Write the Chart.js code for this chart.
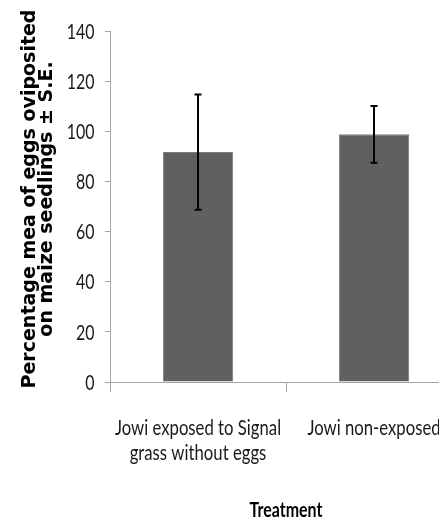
<!DOCTYPE html>
<html>
<head>
<meta charset="utf-8">
<script src="https://cdn.jsdelivr.net/npm/chart.js@4/dist/chart.umd.min.js"></script>
<style>
  html, body { margin: 0; padding: 0; background: #fff; overflow: hidden; }
  #wrap { width: 439px; height: 520px; overflow: hidden; }
  canvas { display: block; }
</style>
</head>
<body>
<div id="wrap"><canvas id="myChart" width="466" height="520"></canvas></div>
<script>
const treatments = [
    ["Jowi exposed to Signal", "grass without eggs"],
    ["Jowi non-exposed"],
];
const meanEggs = [91.7, 98.8];
const seEggs = [23, 11.3];
const yTitle = ["Percentage mea of eggs oviposited", "on maize seedlings \u00b1 S.E."];
const xTitle = "Treatment";

// narrow labels: Lato squeezed horizontally
const SQUEEZE = 0.76;

function squeezed(c, text, x, y, align, sx) {
    c.save();
    c.translate(x, y);
    c.scale(sx, 1);
    c.textAlign = align;
    c.fillText(text, 0, 0);
    c.restore();
}

// tick labels, error bars and axis titles are painted by hand
const extras = {
    id: "extras",
    afterDatasetsDraw(chart) {
        const c = chart.ctx;
        const y = chart.scales.y;
        const meta = chart.getDatasetMeta(0);
        c.save();
        c.strokeStyle = "#000";
        c.lineWidth = 2;
        meta.data.forEach((bar, i) => {
            const top = y.getPixelForValue(meanEggs[i] + seEggs[i]);
            const bot = y.getPixelForValue(meanEggs[i] - seEggs[i]);
            c.beginPath();
            c.moveTo(bar.x, top);
            c.lineTo(bar.x, bot);
            c.moveTo(bar.x - 3.5, top);
            c.lineTo(bar.x + 3.5, top);
            c.moveTo(bar.x - 3.5, bot);
            c.lineTo(bar.x + 3.5, bot);
            c.stroke();
        });
        c.restore();
    },
    afterDraw(chart) {
        const c = chart.ctx;
        const area = chart.chartArea;
        const xs = chart.scales.x;
        const ys = chart.scales.y;

        c.save();
        c.fillStyle = "#1a1a1a";
        c.textBaseline = "middle";
        c.font = "21px Lato, sans-serif";
        ys.ticks.forEach((t, i) => {
            squeezed(c, String(t.value), area.left - 15.5, ys.getPixelForTick(i) + 1, "right", SQUEEZE);
        });
        c.textBaseline = "alphabetic";
        c.font = "22px Lato, sans-serif";
        treatments.forEach((lines, i) => {
            const cx = xs.getPixelForTick(i);
            lines.forEach((line, j) => {
                squeezed(c, line, cx, area.bottom + 53 + j * 25, "center", SQUEEZE);
            });
        });
        c.fillStyle = "#000";
        c.font = "bold 21px Lato, sans-serif";
        squeezed(c, xTitle, (area.left + area.right) / 2, 516.5, "center", SQUEEZE);
        c.restore();

        c.save();
        c.fillStyle = "#000";
        c.textAlign = "center";
        c.textBaseline = "alphabetic";
        c.font = "bold 20px 'DejaVu Sans', sans-serif";
        c.translate(0, 199);
        c.rotate(-Math.PI / 2);
        c.scale(0.95, 1);
        c.fillText(yTitle[0], 0, 35);
        c.fillText(yTitle[1], 0, 52);
        c.restore();
    },
};

new Chart(document.getElementById("myChart"), {
    type: "bar",
    data: {
        labels: treatments,
        datasets: [
            {
                data: meanEggs,
                backgroundColor: "#606060",
                borderColor: "#7a7a7a",
                borderWidth: 1,
                categoryPercentage: 1,
                barPercentage: 0.4,
            },
        ],
    },
    options: {
        responsive: false,
        animation: false,
        layout: { padding: { top: 31, right: 4, left: 0, bottom: 0 } },
        plugins: { legend: { display: false }, tooltip: { enabled: false } },
        scales: {
            x: {
                afterFit(scale) { scale.height = 138; },
                border: { color: "#a6a6a6", width: 1 },
                grid: { drawOnChartArea: false, drawTicks: true, tickLength: 10, color: "#a6a6a6" },
                ticks: { display: false },
            },
            y: {
                min: 0,
                max: 140,
                afterFit(scale) { scale.width = 110; },
                border: { color: "#a6a6a6", width: 1 },
                grid: { drawOnChartArea: false, tickLength: 5, color: "#a6a6a6" },
                ticks: { stepSize: 20, display: false },
            },
        },
    },
    plugins: [extras],
});
</script>
</body>
</html>
